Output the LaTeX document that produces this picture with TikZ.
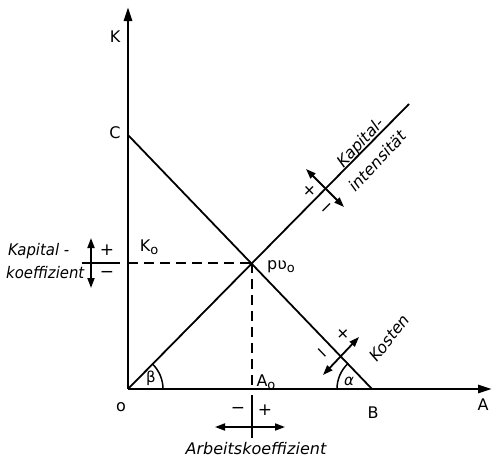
\documentclass[tikz,border=0pt]{standalone}
\usepackage{fontspec}
\setmainfont{DejaVu Sans}
\usetikzlibrary{arrows.meta,calc}
\begin{document}
\begin{tikzpicture}[x=1pt,y=-1pt,
  axis/.style={line width=2.8pt,-{Triangle[length=14pt,width=8pt]}},
  ln/.style={line width=1.8pt},
  dashln/.style={line width=1.8pt,dash pattern=on 10pt off 6pt},
  dbl/.style={line width=1.8pt,{Triangle[length=10pt,width=7pt]}-{Triangle[length=10pt,width=7pt]}},
  lbl/.style={font=\fontsize{16}{19}\selectfont, inner sep=0pt},
  ital/.style={font=\fontsize{16}{19}\selectfont\itshape, inner sep=0pt},
  sgn/.style={font=\fontsize{17}{18}\selectfont, inner sep=0pt},
]
\useasboundingbox (0,0) rectangle (496,463);
% key points
\coordinate (O) at (128,389);
\coordinate (Ktop) at (128,7);
\coordinate (Aend) at (492,389);
\coordinate (C) at (128,135);
\coordinate (B) at (372,389);
\coordinate (D) at (409,104);
\coordinate (P) at (252,263);
\coordinate (K0) at (128,263);
\coordinate (A0) at (252,389);
% axes
\draw[axis] (O) -- (Ktop);
\draw[axis] (O) -- (Aend);
% lines
\draw[ln] (C) -- (B);
\draw[ln] (O) -- (D);
\draw[dashln] (K0) -- (P);
\draw[dashln] (P) -- (A0);
% angle arcs
\draw[line width=1.5pt] ($(O)+(35,0)$) arc[start angle=0,end angle=-45.4,radius=35];
\draw[line width=1.5pt] ($(B)+(-35,0)$) arc[start angle=180,end angle=226.3,radius=35];
\node[lbl,font=\fontsize{15}{17}\selectfont] (beta) at (151,378) {β};
\node[lbl,font=\fontsize{15}{17}\selectfont\itshape] (alpha) at (349,381) {α};
% axis labels
\node[lbl] (lK) at (115,37) {K};
\node[lbl] (lC) at (115,133) {C};
\node[lbl] (lo) at (121,407) {o};
\node[lbl] (lA) at (483,405) {A};
\node[lbl] (lB) at (373,413) {B};
\node[lbl] (lK0) at (149,247) {K\raisebox{-3pt}{\fontsize{13}{15}\selectfont o}};
\node[lbl] (lA0) at (266,382) {A\raisebox{-3pt}{\fontsize{13}{15}\selectfont o}};
\node[lbl] (lP) at (281,267) {pʋ\raisebox{-3pt}{\fontsize{13}{15}\selectfont o}};
% Kapitalkoeffizient cross
\coordinate (kk1) at (91,238);
\coordinate (kk2) at (91,288);
\coordinate (kh1) at (82,263);
\coordinate (kh2) at (120,263);
\draw[dbl] (kk1) -- (kk2);
\draw[ln] (kh1) -- (kh2);
\node[sgn] (kp) at (107,250) {+};
\node[sgn] (km) at (107,274) {−};
\node[ital,anchor=west,xscale=0.93] (kt1) at (8,251) {Kapital -};
\node[ital,anchor=west,xscale=0.93] (kt2) at (6,273) {koeffizient};
% Arbeitskoeffizient cross
\coordinate (ah1) at (215,427);
\coordinate (ah2) at (285,427);
\coordinate (av1) at (252,395);
\coordinate (av2) at (252,438);
\draw[dbl] (ah1) -- (ah2);
\draw[ln] (av1) -- (av2);
\node[sgn] (am) at (238,410) {−};
\node[sgn] (ap) at (265,410) {+};
\node[ital] (at) at (256,449) {Arbeitskoeffizient};
% Kapitalintensitaet cross
\coordinate (KI) at (325,188);
\draw[dbl] ($(KI)+(-19,-19)$) -- ($(KI)+(19,19)$);
\node[sgn,rotate=45] (ip) at (310,191) {+};
\node[sgn,rotate=45] (im) at (328,209) {−};
\node[ital,rotate=47] (it1) at (361,143) {Kapital-};
\node[ital,rotate=47] (it2) at (377,161) {intensität};
% Kosten cross
\coordinate (KO) at (341,356);
\draw[dbl] ($(KO)+(-18,19)$) -- ($(KO)+(18,-19)$);
\node[sgn,rotate=-46] (cp) at (343,334) {+};
\node[sgn,rotate=-46] (cm) at (321,355) {−};
\node[ital,rotate=52] (ct) at (389,338) {Kosten};
\end{tikzpicture}
\end{document}
